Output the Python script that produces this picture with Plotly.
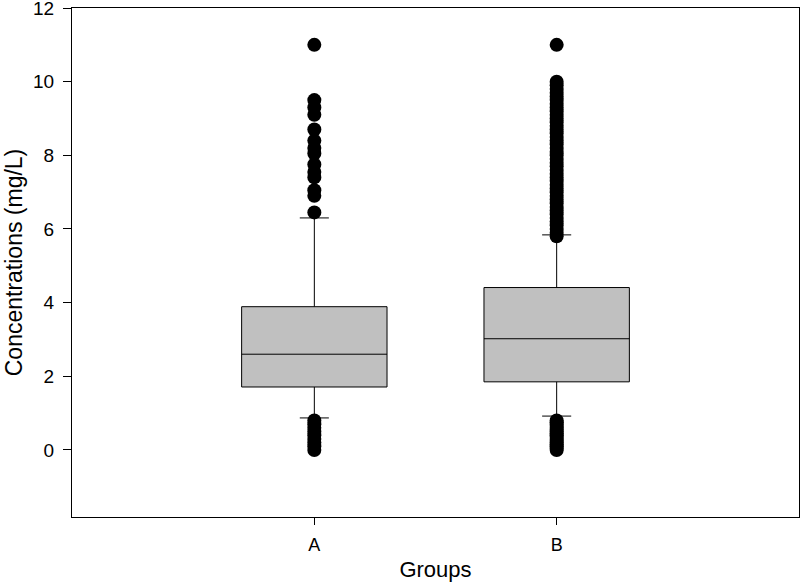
import plotly.graph_objects as go

# box statistics
groups = ["A", "B"]
q1 = [1.71, 1.85]
median = [2.60, 3.02]
q3 = [3.89, 4.41]
lower_fence = [0.87, 0.92]
upper_fence = [6.30, 5.84]

# outliers
outliers_a = [11.0, 9.5, 9.3, 9.1, 8.7, 8.4, 8.2, 8.05, 7.75, 7.55, 7.4, 7.05, 6.9, 6.45,
              0.8, 0.7, 0.6, 0.5, 0.4, 0.3, 0.2, 0.1, 0.0]
outliers_b = [11.0, 10.0, 9.9, 9.8, 9.7, 9.6, 9.5, 9.4, 9.3, 9.2, 9.1, 9.0, 8.9, 8.8,
              8.7, 8.6, 8.5, 8.4, 8.3, 8.2, 8.1, 8.0, 7.9, 7.8, 7.7, 7.6, 7.5, 7.4,
              7.3, 7.2, 7.1, 7.0, 6.9, 6.8, 6.7, 6.6, 6.5, 6.4, 6.3, 6.2, 6.1, 6.0,
              5.9, 5.8,
              0.8, 0.75, 0.7, 0.65, 0.6, 0.55, 0.5, 0.45, 0.4, 0.35, 0.3, 0.25,
              0.2, 0.15, 0.1, 0.05, 0.0]

font_family = "Liberation Sans, Arial, sans-serif"

fig = go.Figure()

fig.add_trace(
    go.Box(
        x=groups,
        q1=q1,
        median=median,
        q3=q3,
        lowerfence=lower_fence,
        upperfence=upper_fence,
        boxpoints=False,
        width=0.6,
        whiskerwidth=0.2,
        fillcolor="#c0c0c0",
        line=dict(color="black", width=1),
        showlegend=False,
    )
)

for g, pts in zip(groups, [outliers_a, outliers_b]):
    fig.add_trace(
        go.Scatter(
            x=[g] * len(pts),
            y=pts,
            mode="markers",
            marker=dict(color="black", size=14, line=dict(width=0)),
            showlegend=False,
            cliponaxis=False,
        )
    )

fig.update_xaxes(
    type="category",
    range=[-1, 2],
    automargin=False,
    showline=True,
    linecolor="black",
    linewidth=1,
    mirror=True,
    ticks="outside",
    ticklen=7,
    tickcolor="black",
    ticklabelstandoff=4,
    showgrid=False,
    zeroline=False,
    title=dict(text="Groups", font=dict(size=22, color="black"), standoff=8),
    tickfont=dict(size=18, color="black"),
)

fig.update_yaxes(
    range=[-1.82, 12],
    tickvals=[0, 2, 4, 6, 8, 10, 12],
    automargin=False,
    showline=True,
    linecolor="black",
    linewidth=1,
    mirror=True,
    ticks="outside",
    ticklen=8,
    tickcolor="black",
    ticklabelstandoff=5,
    ticklabeloverflow="allow",
    showgrid=False,
    zeroline=False,
    title=dict(text="Concentrations (mg/L)", font=dict(size=23, color="black"), standoff=4),
    tickfont=dict(size=19, color="black"),
)

fig.update_layout(
    width=800,
    height=586,
    margin=dict(l=72, r=1, t=8, b=69),
    plot_bgcolor="white",
    paper_bgcolor="white",
    font=dict(family=font_family, color="black"),
)

# remove the default page margin so the figure sits at the window origin
fig.write_html(
    "out.html",
    config={"displayModeBar": False},
    post_script="document.body.style.margin='0';",
)
